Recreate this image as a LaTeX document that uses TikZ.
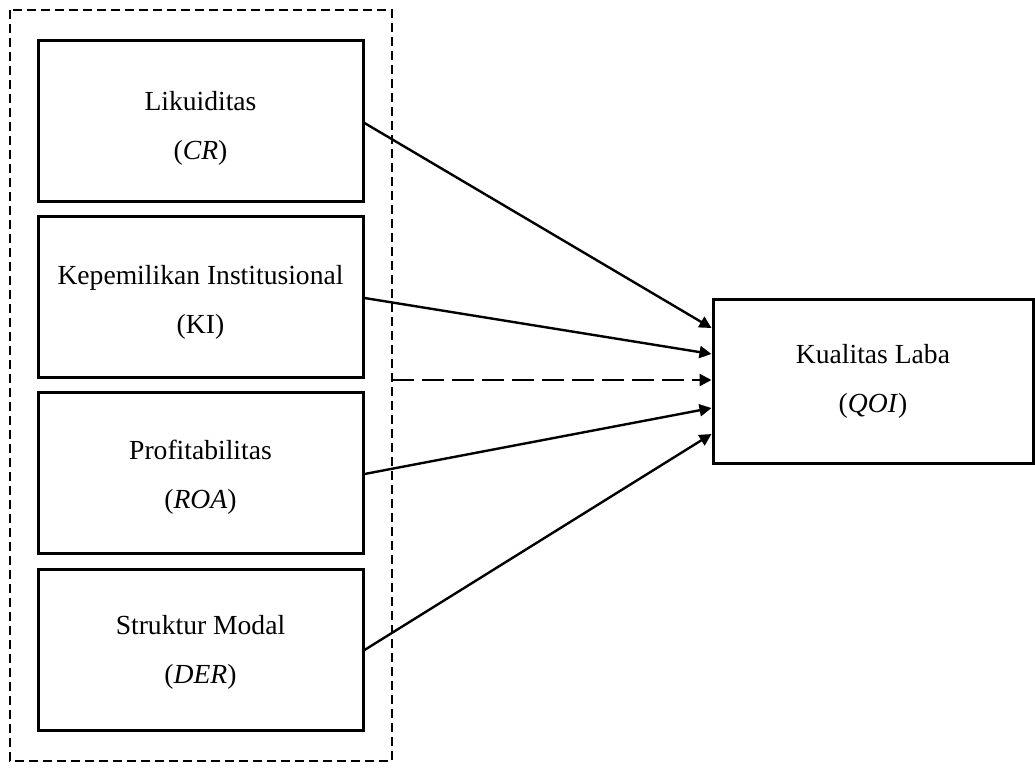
\documentclass[tikz,border=0pt]{standalone}
\usepackage{fontspec}
\setmainfont{Liberation Serif}
\usetikzlibrary{arrows.meta}
\begin{document}
\begin{tikzpicture}[x=0.5pt,y=-0.5pt,
  varbox/.style={draw,line width=1.5pt,minimum width=162.5pt,minimum height=80.5pt,inner sep=0pt},
  resbox/.style={draw,line width=1.5pt,minimum width=160pt,minimum height=82pt,inner sep=0pt},
  lbl/.style={align=center,font=\fontsize{13.8}{24.5}\selectfont,inner sep=0pt},
  arr/.style={line width=1.2pt,-{Triangle[length=6pt,width=6pt]}},
  grp/.style={draw,dashed,line width=0.6pt,dash pattern=on 4.5pt off 2.5pt}]
\useasboundingbox (0,0) rectangle (1035,767);
\draw[grp] (10,10) rectangle (392,761);
\node[varbox] (cr) at (200.5,120.5) {};
\node[varbox] (ki) at (200.5,296.5) {};
\node[varbox] (roa) at (200.5,473) {};
\node[varbox] (der) at (200.5,650) {};
\node[resbox] (qoi) at (873,381) {};
\coordinate (grpe) at (392,380);
\node[lbl] (tcr) at (200.5,128) {Likuiditas\\(\textit{CR})};
\node[lbl] (tki) at (200.5,302) {Kepemilikan Institusional\\(KI)};
\node[lbl] (troa) at (200.5,477) {Profitabilitas\\(\textit{ROA})};
\node[lbl] (tder) at (200.5,652) {Struktur Modal\\(\textit{DER})};
\node[lbl] (tqoi) at (873,381) {Kualitas Laba\\(\textit{QOI})};
\draw[arr] (cr.east |- 0,123) -- (qoi.west |- 0,328);
\draw[arr] (ki.east |- 0,298) -- (qoi.west |- 0,354);
\draw[arr,dash pattern=on 11pt off 4pt] (grpe) -- (qoi.west |- grpe);
\draw[arr] (roa.east |- 0,474) -- (qoi.west |- 0,408);
\draw[arr] (der.east |- 0,650) -- (qoi.west |- 0,434);
\end{tikzpicture}
\end{document}
